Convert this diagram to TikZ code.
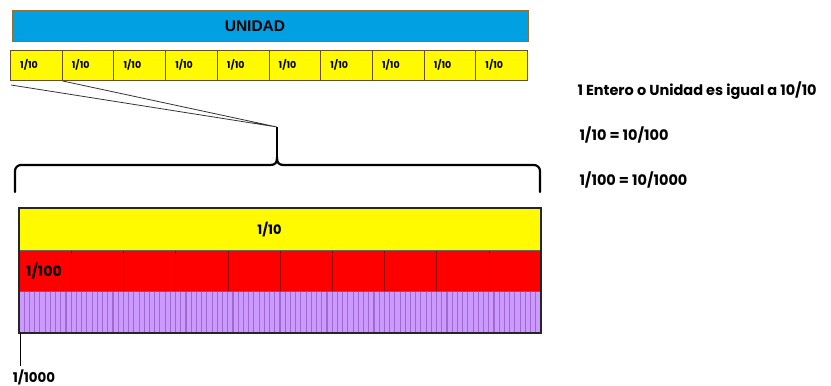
\documentclass[tikz,border=0pt]{standalone}
\usepackage{fontspec}
\setmainfont{Poppins}
\newfontfamily\arialfont{Liberation Sans}
\definecolor{unidadblue}{RGB}{0,160,226}
\definecolor{rimbrown}{RGB}{150,110,50}
\definecolor{tenthyellow}{RGB}{255,250,0}
\definecolor{hundredred}{RGB}{255,0,0}
\definecolor{thousandlilac}{RGB}{204,153,255}
\definecolor{stripelilac}{RGB}{160,105,210}
\tikzset{
  tenthcell/.style={draw=rimbrown!70!black, line width=1pt, fill=tenthyellow,
    minimum width=51.7pt, minimum height=30pt, inner sep=0pt, anchor=north west},
  note/.style={anchor=west, font=\bfseries\fontsize{14.5}{16}\selectfont}
}
\begin{document}
\begin{tikzpicture}[x=1pt, y=-1pt]
    \useasboundingbox (0,0) rectangle (831,386);
    % top bar
    \node[draw=rimbrown, line width=1.2pt, fill=unidadblue, minimum width=516pt, minimum height=31pt,
      inner sep=0pt, anchor=north west] (unidad) at (12,10) {};
    \node[font=\arialfont\bfseries\fontsize{15.5}{16}\selectfont] (unidadtext) at (255,26) {UNIDAD};
    \foreach \i in {0,...,9} {
      \node[tenthcell] (t\i) at (10+51.7*\i,50) {};
      \node[font=\bfseries\fontsize{9.5}{10}\selectfont] (l\i) at (29+51.7*\i,64.5) {1/10};
    }
    % zoom lines
    \coordinate (a) at (11,85); \coordinate (b) at (t0.south east); \coordinate (c) at (277,127); \coordinate (d) at (277,158);
    \draw[black!80, line width=0.8pt] (a) -- (c) -- (b);
    \draw[line width=1.2pt] (c) -- (d);
    \draw[line width=2.2pt, line cap=round] (15,192) -- (15,171) arc[start angle=180, end angle=90, radius=6pt]
      -- (270,165) .. controls (275,165) and (277,163) .. (d)
      .. controls (277,163) and (279,165) .. (284,165) -- (534,165)
      arc[start angle=90, end angle=0, radius=6pt] -- (540,192);
    % enlarged tenth
    \fill[tenthyellow] (19,208) rectangle (541,250);
    \fill[hundredred] (19,250) rectangle (541,291);
    \fill[thousandlilac] (19,291) rectangle (541,333);
    \foreach \k in {1,...,99}
      \draw[stripelilac, line width=1.1pt] (19+5.22*\k,291) -- (19+5.22*\k,333);
    \foreach \k in {1,...,9}
      \draw[red!60!black, line width=0.5pt] (19+52.2*\k,250) -- (19+52.2*\k,291);
    \draw[black!60, line width=0.5pt] (19,250) -- (541,250) (19,291) -- (541,291);
    \draw[black!85, line width=1.5pt] (19,208) rectangle (541,333);
    \node[font=\bfseries\fontsize{13}{14}\selectfont] (tenth) at (269.5,230) {1/10};
    \node[font=\bfseries\fontsize{14.2}{15}\selectfont] (hundredth) at (44,271) {1/100};
    \node[font=\bfseries\fontsize{13.4}{14}\selectfont, anchor=north] (thousandth) at (34,366) {1/1000};
    \draw[line width=0.8pt] (20,333) -- (thousandth.north -| 20,0);
    % notes
    \node[note] (n1) at (574,91) {1 Entero o Unidad es igual a 10/10};
    \node[note] (n2) at (576,135) {1/10 = 10/100};
    \node[note] (n3) at (576,180) {1/100 = 10/1000};
\end{tikzpicture}
\end{document}
